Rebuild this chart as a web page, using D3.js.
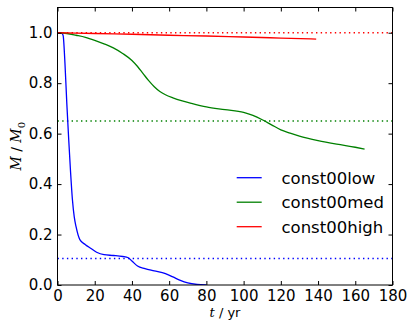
<!DOCTYPE html>
<html>
<head>
<meta charset="utf-8">
<script src="https://cdn.jsdelivr.net/npm/d3@7"></script>
<style>
  body { margin: 0; background: #fff; }
  svg { display: block; font-family: "DejaVu Sans", sans-serif; }
</style>
</head>
<body>
<div id="chart"></div>
<script>
// Set dimensions and margins
const width = 415;
const height = 334;
const margin = {left: 57.5, right: 22.5, top: 7.5, bottom: 49};

// series data (t in yr, M/M0)
const lowT = [0, 2, 3, 4, 5, 6, 7, 8, 9, 10, 12, 15, 18, 21, 25, 30, 35, 38, 40, 43, 47, 52, 58, 62, 66, 70, 75, 80];
const lowM = [1.0, 1.0, 0.99, 0.88, 0.72, 0.58, 0.45, 0.34, 0.27, 0.23, 0.18, 0.16, 0.145, 0.13, 0.12, 0.117, 0.113, 0.108, 0.095, 0.075, 0.065, 0.056, 0.045, 0.032, 0.018, 0.008, 0.002, 0.0];

const medT = [0, 5, 10, 15, 20, 25, 30, 35, 40, 43, 46, 49, 52, 55, 58, 62, 67, 72, 80, 90, 100, 105, 110, 115, 120, 125, 130, 140, 150, 160, 165];
const medM = [1.0, 0.997, 0.99, 0.982, 0.97, 0.956, 0.94, 0.918, 0.89, 0.866, 0.838, 0.81, 0.786, 0.767, 0.754, 0.742, 0.73, 0.72, 0.706, 0.695, 0.684, 0.672, 0.655, 0.635, 0.615, 0.602, 0.59, 0.572, 0.558, 0.546, 0.539];

const highT = [0, 20, 40, 60, 80, 100, 120, 139];
const highM = [1.0, 0.997, 0.994, 0.99, 0.987, 0.983, 0.979, 0.975];

// dotted reference levels
const refLevels = [1.0, 0.65, 0.105];

const seriesNames = ["const00low", "const00med", "const00high"];
const seriesColors = ["#0000ff", "#008000", "#ff0000"];

const xTicks = [0, 20, 40, 60, 80, 100, 120, 140, 160, 180];
const yTicks = [0.0, 0.2, 0.4, 0.6, 0.8, 1.0];

let svg = d3.select("#chart")
  .append("svg")
  .attr("width", width)
  .attr("height", height);

let xScale = d3.scaleLinear()
  .domain([0, 180])
  .range([margin.left, width - margin.right]);

let yScale = d3.scaleLinear()
  .domain([0, 1.1])
  .range([height - margin.bottom, margin.top]);

const series = [
  {name: seriesNames[0], color: seriesColors[0], pts: lowT.map((t, i) => [t, lowM[i]])},
  {name: seriesNames[1], color: seriesColors[1], pts: medT.map((t, i) => [t, medM[i]])},
  {name: seriesNames[2], color: seriesColors[2], pts: highT.map((t, i) => [t, highM[i]])}
];

svg.append("clipPath").attr("id", "clip")
  .append("rect")
  .attr("x", margin.left).attr("y", margin.top)
  .attr("width", width - margin.left - margin.right)
  .attr("height", height - margin.top - margin.bottom);

let plot = svg.append("g").attr("clip-path", "url(#clip)");

// dotted reference lines
plot.selectAll(".ref")
  .data(refLevels)
  .enter()
  .append("line")
    .attr("x1", xScale(0)).attr("x2", xScale(180))
    .attr("y1", d => yScale(d)).attr("y2", d => yScale(d))
    .attr("stroke", (d, i) => seriesColors[2 - i])
    .attr("stroke-width", 1.3)
    .attr("stroke-dasharray", "1.4,3.3");

const line = d3.line()
  .x(d => xScale(d[0]))
  .y(d => yScale(d[1]))
  .curve(d3.curveMonotoneX);

plot.selectAll(".series")
  .data(series)
  .enter()
  .append("path")
    .attr("d", d => line(d.pts))
    .attr("fill", "none")
    .attr("stroke", d => d.color)
    .attr("stroke-width", 1.3);

// Axes, ticks inward on all sides
const fs = "15px";
let xb = svg.append("g")
  .attr("transform", `translate(0,${height - margin.bottom})`)
  .call(d3.axisBottom(xScale).tickValues(xTicks).tickSizeInner(-4).tickSizeOuter(0).tickPadding(5));
let xt = svg.append("g")
  .attr("transform", `translate(0,${margin.top})`)
  .call(d3.axisTop(xScale).tickValues(xTicks).tickSizeInner(-4).tickSizeOuter(0).tickFormat(""));
let yl = svg.append("g")
  .attr("transform", `translate(${margin.left},0)`)
  .call(d3.axisLeft(yScale).tickValues(yTicks).tickSizeInner(-4).tickSizeOuter(0).tickPadding(5).tickFormat(d3.format(".1f")));
let yr = svg.append("g")
  .attr("transform", `translate(${width - margin.right},0)`)
  .call(d3.axisRight(yScale).tickValues(yTicks).tickSizeInner(-4).tickSizeOuter(0).tickFormat(""));

[xb, xt, yl, yr].forEach(g => {
  g.select(".domain").remove();
  g.selectAll("text").attr("font-size", fs).attr("fill", "#000").attr("font-family", "DejaVu Sans, sans-serif");
  g.selectAll("line").attr("stroke", "#000");
});

// Frame
svg.append("rect")
  .attr("x", margin.left).attr("y", margin.top)
  .attr("width", width - margin.left - margin.right)
  .attr("height", height - margin.top - margin.bottom)
  .attr("fill", "none").attr("stroke", "#000").attr("stroke-width", 1);

// Axis labels
let xlab = svg.append("text")
  .attr("x", (margin.left + width - margin.right) / 2)
  .attr("y", 317)
  .attr("text-anchor", "middle")
  .attr("font-size", "13px");
xlab.append("tspan").attr("font-family", "DejaVu Serif, serif").attr("font-style", "italic").text("t");
xlab.append("tspan").text(" / yr");

let ylab = svg.append("text")
  .attr("transform", `translate(21,${(margin.top + height - margin.bottom) / 2}) rotate(-90)`)
  .attr("text-anchor", "middle")
  .attr("font-size", "14px")
  .attr("font-family", "DejaVu Serif, serif")
  .attr("font-style", "italic");
ylab.append("tspan").text("M");
ylab.append("tspan").attr("font-style", "normal").attr("font-family", "DejaVu Sans, sans-serif").text(" / ");
ylab.append("tspan").text("M");
ylab.append("tspan").attr("font-size", "10px").attr("dy", 4).attr("font-style", "normal").text("0");

// Legend
let legend = svg.append("g");
series.forEach((s, i) => {
  const ly = 177.7 + i * 24.5;
  legend.append("line")
    .attr("x1", 236.7).attr("x2", 261.7)
    .attr("y1", ly).attr("y2", ly)
    .attr("stroke", s.color).attr("stroke-width", 1.3);
  legend.append("text")
    .attr("x", 281.5).attr("y", ly)
    .attr("dy", "0.36em")
    .attr("font-size", "16.5px")
    .text(s.name);
});
</script>
</body>
</html>
